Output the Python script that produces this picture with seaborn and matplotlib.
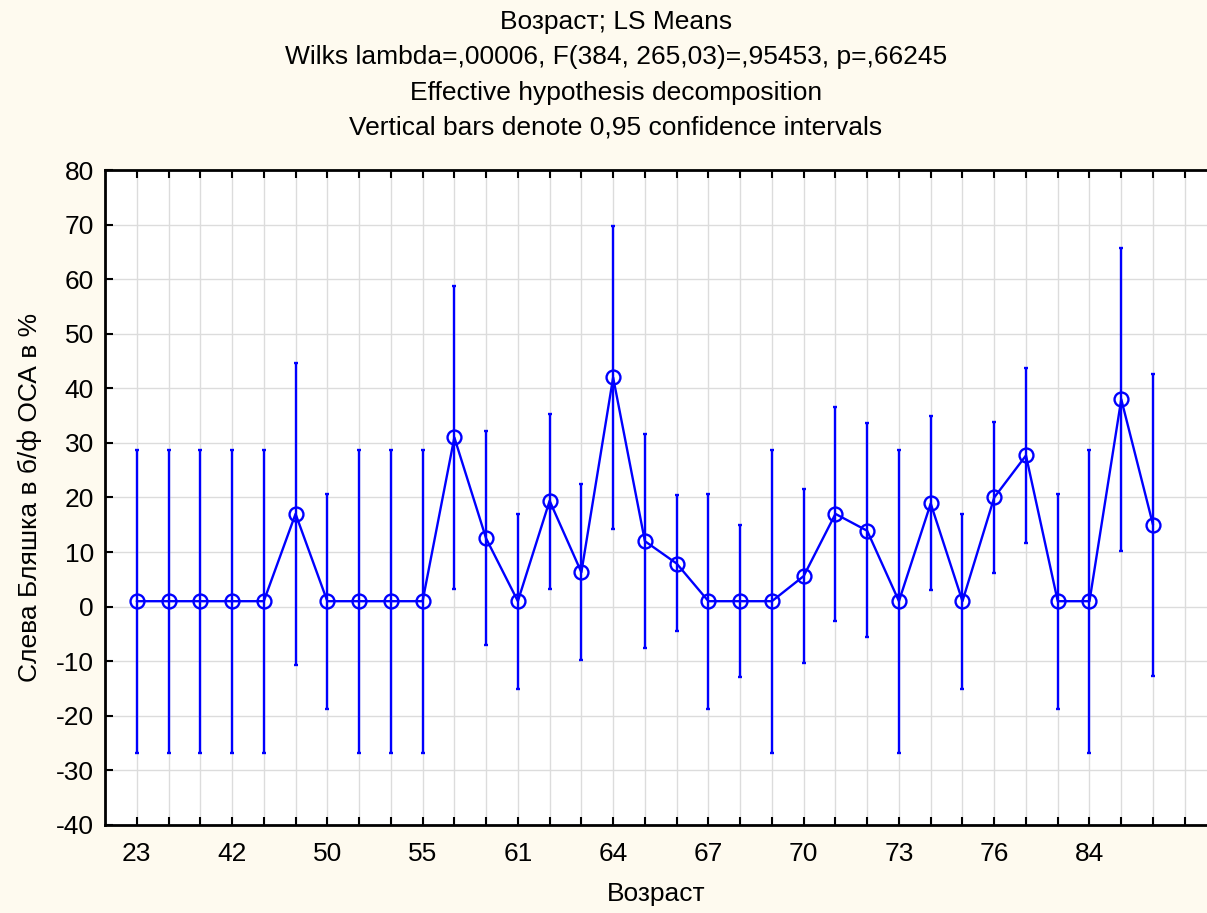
import numpy as np
import pandas as pd
import seaborn as sns
import matplotlib
matplotlib.use("Agg")
import matplotlib.pyplot as plt

# LS means per age group, with 0.95 confidence limits
age_labels = ["23", "", "", "42", "", "", "50", "", "", "55", "", "",
              "61", "", "", "64", "", "", "67", "", "", "70", "", "",
              "73", "", "", "76", "", "", "84", "", ""]
means = [1, 1, 1, 1, 1, 17, 1, 1, 1, 1, 31, 12.5, 1, 19.4, 6.3, 42, 12,
         7.9, 1, 1, 1, 5.6, 17, 13.9, 1, 18.9, 1, 20, 27.7, 1, 1, 38, 15]
ci_low = [-26.8, -26.8, -26.8, -26.8, -26.8, -10.7, -18.7, -26.8, -26.8,
          -26.8, 3.3, -7.1, -15.1, 3.3, -9.7, 14.3, -7.6, -4.5, -18.7,
          -12.9, -26.8, -10.4, -2.6, -5.6, -26.8, 3.0, -15.1, 6.1, 11.6,
          -18.7, -26.8, 10.2, -12.7]
ci_high = [28.7, 28.7, 28.7, 28.7, 28.7, 44.7, 20.6, 28.7, 28.7, 28.7,
           58.7, 32.1, 17.0, 35.3, 22.4, 69.8, 31.6, 20.4, 20.6, 14.9,
           28.7, 21.6, 36.6, 33.6, 28.7, 35.0, 17.0, 33.9, 43.7, 20.6,
           28.7, 65.7, 42.7]

title_lines = ["Возраст; LS Means",
               "Wilks lambda=,00006, F(384, 265,03)=,95453, p=,66245",
               "Effective hypothesis decomposition",
               "Vertical bars denote 0,95 confidence intervals"]

df = pd.DataFrame({"pos": np.arange(len(means)), "mean": means,
                   "lo": ci_low, "hi": ci_high})

sns.set_theme(style="whitegrid")
plt.rcParams["font.family"] = ["Liberation Sans", "DejaVu Sans"]
plt.rcParams["axes.unicode_minus"] = False

bg = "#FEFAEF"
blue = "#0000FF"

fig = plt.figure(figsize=(12.07, 9.13), dpi=100, facecolor=bg)
ax = fig.add_axes([0.087, 0.0964, 0.913, 0.7174])
ax.set_facecolor("white")

# confidence intervals
ax.errorbar(df["pos"], df["mean"],
            yerr=[df["mean"] - df["lo"], df["hi"] - df["mean"]],
            fmt="none", ecolor=blue, elinewidth=1.7, capsize=1.5,
            capthick=1.7, zorder=3)

sns.lineplot(data=df, x="pos", y="mean", ax=ax, color=blue, linewidth=1.7,
             marker="o", markersize=10, markerfacecolor="none",
             markeredgecolor=blue, markeredgewidth=1.7, zorder=4)

ax.set_xlim(-1, 33.7)
ax.set_ylim(-40, 80)
ax.set_yticks(np.arange(-40, 81, 10))
ax.set_xticks(np.arange(0, 34))
ax.set_xticklabels(age_labels + [""])

ax.grid(True, color="#dcdcdc", linewidth=1)
for side in ["left", "top", "bottom"]:
    ax.spines[side].set_visible(True)
    ax.spines[side].set_color("black")
    ax.spines[side].set_linewidth(2)
ax.spines["right"].set_visible(False)

ax.tick_params(axis="both", direction="in", length=6, width=1.5,
               color="black", labelsize=19, labelcolor="black", pad=8)
ax.tick_params(axis="x", top=True, bottom=True, pad=12)
ax.tick_params(axis="y", left=True, right=False)

ax.set_xlabel("Возраст", fontsize=19, color="black", labelpad=12)
ax.set_ylabel("Слева Бляшка в б/ф ОСА в %", fontsize=19, color="black",
              labelpad=10)

for i, line in enumerate(title_lines):
    fig.text(0.510, 1 - (22 + 35.3 * i) / 913, line, ha="center",
             va="center", fontsize=19, color="black")

fig.savefig("out.png", dpi=100, facecolor=bg)
